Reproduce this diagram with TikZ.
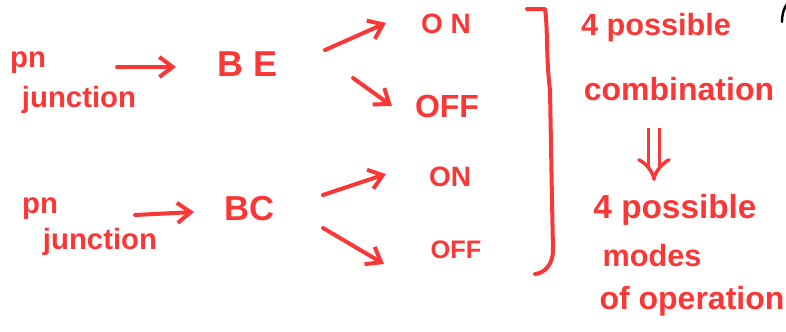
\documentclass[tikz,border=0pt]{standalone}
\usepackage{fontspec}
\setmainfont{Liberation Sans}
\usetikzlibrary{arrows.meta}
\definecolor{ink}{RGB}{250,55,55}
\newcommand{\fs}[1]{\fontsize{#1}{#1}\selectfont\bfseries}
\begin{document}
\begin{tikzpicture}[x=0.75pt,y=-0.75pt,
  lbl/.style={text=ink, inner sep=0pt, anchor=center},
  stroke/.style={draw=ink, line width=3pt, line cap=round, line join=round},
  arr/.style={stroke, -{Straight Barb[length=10pt,width=15pt]}},
  dbl/.style={draw=ink, line width=2.6pt, double, double distance=6pt,
    -{Implies[length=11pt]}}]
\useasboundingbox (0,0) rectangle (786,332);

% upper branch: BE junction
\node[lbl, font=\fs{22}] (pn1) at (28,63) {pn};
\node[lbl, font=\fs{22}] (jn1) at (79,100) {junction};
\node[lbl, font=\fs{27}] (be) at (248,64) {B E};
\node[lbl, font=\fs{21}] (on1) at (446,24) {O N};
\node[lbl, font=\fs{24}] (off1) at (447,106) {OFF};

% lower branch: BC junction
\node[lbl, font=\fs{22}] (pn2) at (40,209) {pn};
\node[lbl, font=\fs{22}] (jn2) at (100,242) {junction};
\node[lbl, font=\fs{26}] (bc) at (250,209) {BC};
\node[lbl, font=\fs{21}] (on2) at (450,177) {ON};
\node[lbl, font=\fs{19}] (off2) at (456,250) {OFF};

% right-hand notes
\node[lbl, font=\fs{23}] (comb1) at (656,28) {4 possible};
\node[lbl, font=\fs{24}] (comb2) at (679,89) {combination};
\node[lbl, font=\fs{25}] (mode1) at (675,210) {4 possible};
\node[lbl, font=\fs{23}] (mode2) at (652,256) {modes};
\node[lbl, font=\fs{24}] (mode3) at (692,301) {of operation};

% arrow end points
\coordinate (a1s) at (117,67);  \coordinate (a1e) at (176,67);
\coordinate (a2s) at (325,50);  \coordinate (a2e) at (386,23);
\coordinate (a3s) at (353,78);  \coordinate (a3e) at (392,106);
\coordinate (a4s) at (135,215); \coordinate (a4e) at (194,212);
\coordinate (a5s) at (323,195); \coordinate (a5e) at (386,174);
\coordinate (a6s) at (323,228); \coordinate (a6e) at (384,264);
\coordinate (ds) at (654,128);  \coordinate (de) at (654,181);

\draw[arr] (a1s) -- (a1e);
\draw[arr] (a2s) -- (a2e);
\draw[arr] (a3s) -- (a3e);
\draw[arr] (a4s) -- (a4e);
\draw[arr] (a5s) -- (a5e);
\draw[arr] (a6s) -- (a6e);
\draw[dbl] (ds) -- (de);

% closing bracket grouping the four cases
\coordinate (bt) at (527,9);
\coordinate (bb) at (535,274);
\draw[stroke] (bt) -- (545,9) .. controls (548,30) and (546,60) .. (550,90)
  -- (552,200) -- (553,250) .. controls (553,264) and (545,273) .. (bb);

% small pen mark in the top corner
\coordinate (m1) at (782,22);
\coordinate (m2) at (787,4);
\draw[black, line width=1.8pt, line cap=round] (m1) .. controls (782,14) and (784,8) .. (m2);
\end{tikzpicture}
\end{document}
